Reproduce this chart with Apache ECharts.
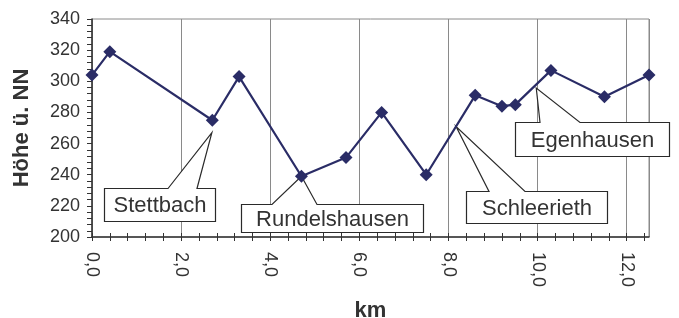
<!DOCTYPE html>
<html>
<head>
    <meta charset="utf-8">
    <script src="https://cdn.jsdelivr.net/npm/echarts@6.0.0/dist/echarts.min.js"></script>
</head>
<body style="margin: 0">
<div id="container" style="width: 679px; height: 318px"></div>
<script type="text/javascript">
    // Streckenprofil: km und Höhe ü. NN
    var km = [0.0, 0.4, 2.7, 3.3, 4.7, 5.7, 6.5, 7.5, 8.6, 9.2, 9.5, 10.3, 11.5, 12.5];
    var hoehe = [304, 319, 275, 303, 239, 251, 280, 240, 291, 284, 285, 307, 290, 304];

    // Achsenbeschriftung
    var xLabels = [0, 2, 4, 6, 8, 10, 12];
    var yLabels = [200, 220, 240, 260, 280, 300, 320, 340];

    // Orte: Name und Spitze der Sprechblase (km, Höhe)
    var ortNamen = ['Stettbach', 'Rundelshausen', 'Schleerieth', 'Egenhausen'];
    var ortSpitzen = [[2.69, 267], [4.7, 239], [8.17, 271], [9.97, 295.6]];

    // Kasten der Sprechblase in Pixel: x, y, breite, höhe, fuss links, fuss rechts
    var kaesten = [
        [104.5, 188.5, 111, 33, 168, 197],
        [241.5, 204.5, 182, 28, 272, 317],
        [466.5, 191.5, 141, 32, 489, 525],
        [515.5, 122.5, 154, 34, 540, 580]
    ];

    var xMax = km[km.length - 1];
    // kleine Striche alle 0,4 km
    var xTicks = [];
    for (var t = 0; t <= 31; t++) {
        xTicks.push(Math.round(t * 0.4 * 10) / 10);
    }

    var dom = document.getElementById('container');
    var myChart = echarts.init(dom);

    var achse = '#333333';
    var gitter = '#8a8a8a';
    var linie = '#2a2c66';

    var option = {
        animation: false,
        textStyle: {fontFamily: 'Liberation Sans, Arial, sans-serif'},
        grid: {
            left: 92, top: 19, width: 557, height: 218,
            outerBoundsMode: 'none', containLabel: false,
            show: true, borderColor: gitter, borderWidth: 1
        },
        xAxis: [{
            type: 'value', min: 0, max: xMax, position: 'bottom',
            axisLine: {show: true, onZero: false, lineStyle: {color: achse, width: 1.5}},
            axisTick: {show: true, customValues: xTicks, length: 4, lineStyle: {color: achse}},
            axisLabel: {
                customValues: xLabels, rotate: -90, margin: 15, fontSize: 18, color: '#333',
                formatter: function (v) { return v.toFixed(1).replace('.', ','); }
            },
            splitLine: {show: false},
            name: 'km', nameLocation: 'middle', nameGap: 63,
            nameTextStyle: {fontWeight: 'bold', fontSize: 22, color: '#333'}
        }, {
            type: 'value', min: 0, max: xMax, position: 'bottom',
            axisLine: {show: false},
            axisTick: {show: true, inside: true, customValues: xTicks, length: 4, lineStyle: {color: achse}},
            axisLabel: {show: false},
            splitLine: {show: false}
        }, {
            type: 'value', min: 0, max: xMax, interval: 2, position: 'bottom',
            axisLine: {show: false}, axisTick: {show: false}, axisLabel: {show: false},
            splitLine: {show: true, lineStyle: {color: gitter, width: 1}}
        }],
        yAxis: {
            type: 'value', min: yLabels[0], max: yLabels[yLabels.length - 1], interval: 20,
            axisLine: {show: true, lineStyle: {color: achse, width: 1.5}},
            axisTick: {show: true, length: 5, lineStyle: {color: achse}},
            minorTick: {show: true, splitNumber: 5, length: 5, lineStyle: {color: achse}},
            axisLabel: {fontSize: 18, color: '#333', margin: 12},
            splitLine: {show: false},
            name: 'Höhe ü. NN', nameLocation: 'middle', nameGap: 59, nameRotate: 90,
            nameTextStyle: {fontWeight: 'bold', fontSize: 22, color: '#333'}
        },
        series: [{
            type: 'line',
            xAxisIndex: 0, yAxisIndex: 0,
            data: km.map(function (k, i) { return [k, hoehe[i]]; }),
            symbol: 'diamond', symbolSize: 13,
            itemStyle: {color: linie},
            lineStyle: {color: linie, width: 2.2},
            z: 3
        }]
    };
    myChart.setOption(option);

    // Sprechblasen
    var blasen = ortNamen.map(function (name, i) {
        var tip = myChart.convertToPixel({seriesIndex: 0}, ortSpitzen[i]);
        var k = kaesten[i];
        var x0 = k[0], y0 = k[1], x1 = k[0] + k[2], y1 = k[1] + k[3];
        return {
            type: 'group', z: 10,
            children: [{
                type: 'polygon',
                shape: {points: [[x0, y0], [k[4], y0], tip, [k[5], y0], [x1, y0], [x1, y1], [x0, y1]]},
                style: {fill: '#fff', stroke: '#2a2a2a', lineWidth: 1.2}
            }, {
                type: 'text',
                x: (x0 + x1) / 2, y: (y0 + y1) / 2 + 1,
                style: {
                    text: name, fontSize: 22, fill: '#333',
                    fontFamily: 'Liberation Sans, Arial, sans-serif',
                    align: 'center', verticalAlign: 'middle'
                }
            }]
        };
    });
    myChart.setOption({graphic: blasen});
</script>
</body>
</html>
